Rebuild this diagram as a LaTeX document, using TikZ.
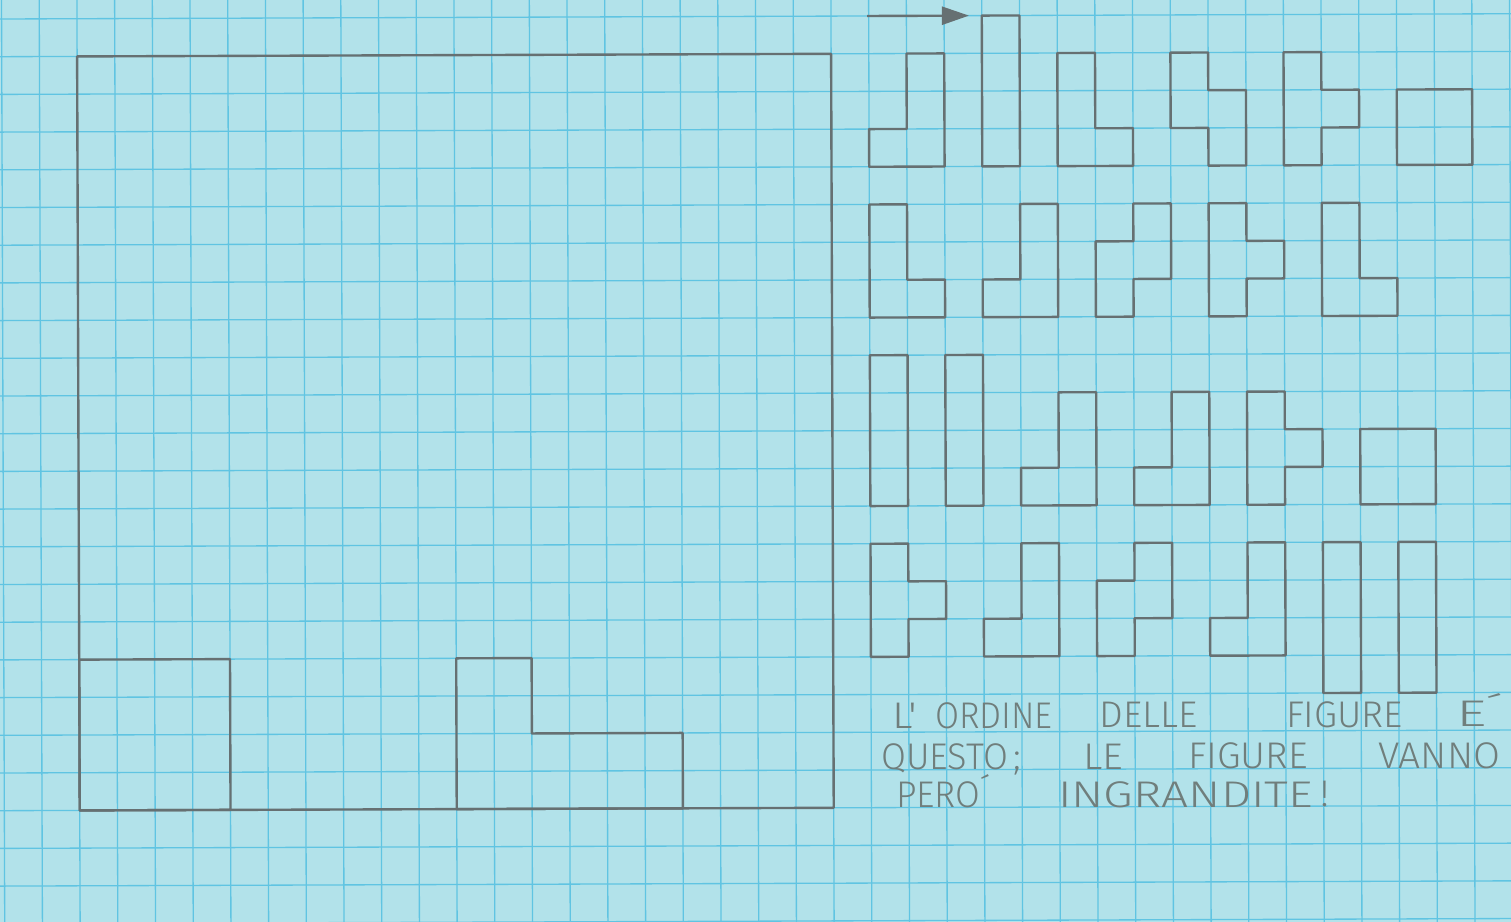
\documentclass[tikz,border=0pt]{standalone}
\usepackage{fontspec}
\usepackage{graphicx}
\usepackage{xcolor}
\usepackage{tikz}
\usetikzlibrary{arrows.meta}
\newfontfamily\handfont{Fira Sans Light}
\definecolor{paper}{RGB}{178,226,234}
\definecolor{gridblue}{RGB}{96,196,226}
\definecolor{pencil}{RGB}{102,112,114}
\definecolor{lead}{RGB}{112,126,124}
\newcommand{\handword}[2]{\resizebox{#1}{\height}{#2}}

\begin{document}
\begin{tikzpicture}[
  scale=0.5,
  gridline/.style={draw=gridblue, line width=0.5pt},
  piece/.style={draw=pencil, line width=0.9pt, line join=round},
  arrow/.style={-{Triangle[length=3.6mm, width=2.4mm]}, draw=pencil, line width=0.9pt},
  word/.style={font=\handfont\fontsize{14}{16}\selectfont, text=lead, anchor=base west, inner sep=0pt}
]
  \path[use as bounding box, fill=paper] (-0.042,0.504) rectangle (40.037,-23.95);
  \clip (-0.042,0.504) rectangle (40.037,-23.95);
  \begin{scope}[rotate=0.2]
  \foreach \i in {-1,...,41}
    \draw[gridline] (\i,1) -- (\i,-25);
  \foreach \j in {-25,...,1}
    \draw[gridline] (-1,\j) -- (41,\j);

  % board
  \draw[piece] (2,-1) rectangle (22,-21);
  \draw[piece] (2,-17) rectangle (6,-21);
  \draw[piece] (12,-17) -- (14,-17) -- (14,-19) -- (18,-19) -- (18,-21) -- (12,-21) -- cycle;

  % order of the pieces
  \coordinate (tail) at (22.96,0);
  \coordinate (head) at (25.66,0);
  \draw[arrow] (tail) -- (head);

  \draw[piece] (24,-1) -- (25,-1) -- (25,-4) -- (23,-4) -- (23,-3) -- (24,-3) -- cycle;
  \draw[piece] (26,0) rectangle (27,-4);
  \draw[piece] (28,-1) -- (29,-1) -- (29,-3) -- (30,-3) -- (30,-4) -- (28,-4) -- cycle;
  \draw[piece] (31,-1) -- (32,-1) -- (32,-2) -- (33,-2) -- (33,-4) -- (32,-4) -- (32,-3) -- (31,-3) -- cycle;
  \draw[piece] (34,-1) -- (35,-1) -- (35,-2) -- (36,-2) -- (36,-3) -- (35,-3) -- (35,-4) -- (34,-4) -- cycle;
  \draw[piece] (37,-2) rectangle (39,-4);

  \draw[piece] (23,-5) -- (24,-5) -- (24,-7) -- (25,-7) -- (25,-8) -- (23,-8) -- cycle;
  \draw[piece] (27,-5) -- (28,-5) -- (28,-8) -- (26,-8) -- (26,-7) -- (27,-7) -- cycle;
  \draw[piece] (30,-5) -- (31,-5) -- (31,-7) -- (30,-7) -- (30,-8) -- (29,-8) -- (29,-6) -- (30,-6) -- cycle;
  \draw[piece] (32,-5) -- (33,-5) -- (33,-6) -- (34,-6) -- (34,-7) -- (33,-7) -- (33,-8) -- (32,-8) -- cycle;
  \draw[piece] (35,-5) -- (36,-5) -- (36,-7) -- (37,-7) -- (37,-8) -- (35,-8) -- cycle;

  \draw[piece] (23,-9) rectangle (24,-13);
  \draw[piece] (25,-9) rectangle (26,-13);
  \draw[piece] (28,-10) -- (29,-10) -- (29,-13) -- (27,-13) -- (27,-12) -- (28,-12) -- cycle;
  \draw[piece] (31,-10) -- (32,-10) -- (32,-13) -- (30,-13) -- (30,-12) -- (31,-12) -- cycle;
  \draw[piece] (33,-10) -- (34,-10) -- (34,-11) -- (35,-11) -- (35,-12) -- (34,-12) -- (34,-13) -- (33,-13) -- cycle;
  \draw[piece] (36,-11) rectangle (38,-13);

  \draw[piece] (23,-14) -- (24,-14) -- (24,-15) -- (25,-15) -- (25,-16) -- (24,-16) -- (24,-17) -- (23,-17) -- cycle;
  \draw[piece] (27,-14) -- (28,-14) -- (28,-17) -- (26,-17) -- (26,-16) -- (27,-16) -- cycle;
  \draw[piece] (30,-14) -- (31,-14) -- (31,-16) -- (30,-16) -- (30,-17) -- (29,-17) -- (29,-15) -- (30,-15) -- cycle;
  \draw[piece] (33,-14) -- (34,-14) -- (34,-17) -- (32,-17) -- (32,-16) -- (33,-16) -- cycle;
  \draw[piece] (35,-14) rectangle (36,-18);
  \draw[piece] (37,-14) rectangle (38,-18);

  % note
  \node[word] (l1a) at (23.56,-18.9) {\handword{0.33cm}{L'}};
  \node[word] (l1b) at (24.68,-18.9) {\handword{1.56cm}{ORDINE}};
  \node[word] (l1c) at (29.05,-18.9) {\handword{1.30cm}{DELLE}};
  \node[word] (l1d) at (33.99,-18.9) {\handword{1.55cm}{FIGURE}};
  \node[word] (l1e) at (38.50,-18.9) {\handword{0.62cm}{E´}};
  \node[word] (l2a) at (23.25,-20.0) {\handword{1.68cm}{QUESTO}};
  \node[word] (l2b) at (26.75,-20.0) {;};
  \node[word] (l2c) at (28.61,-20.0) {\handword{0.53cm}{LE}};
  \node[word] (l2d) at (31.39,-20.0) {\handword{1.59cm}{FIGURE}};
  \node[word] (l2e) at (36.43,-20.0) {\handword{1.62cm}{VANNO}};
  \node[word] (l3a) at (23.64,-21.0) {\handword{1.25cm}{PERO´}};
  \node[word] (l3b) at (27.94,-21.0) {\handword{3.38cm}{INGRANDITE}};
  \node[word] (l3c) at (34.89,-21.0) {!};
  \end{scope}
\end{tikzpicture}
\end{document}
